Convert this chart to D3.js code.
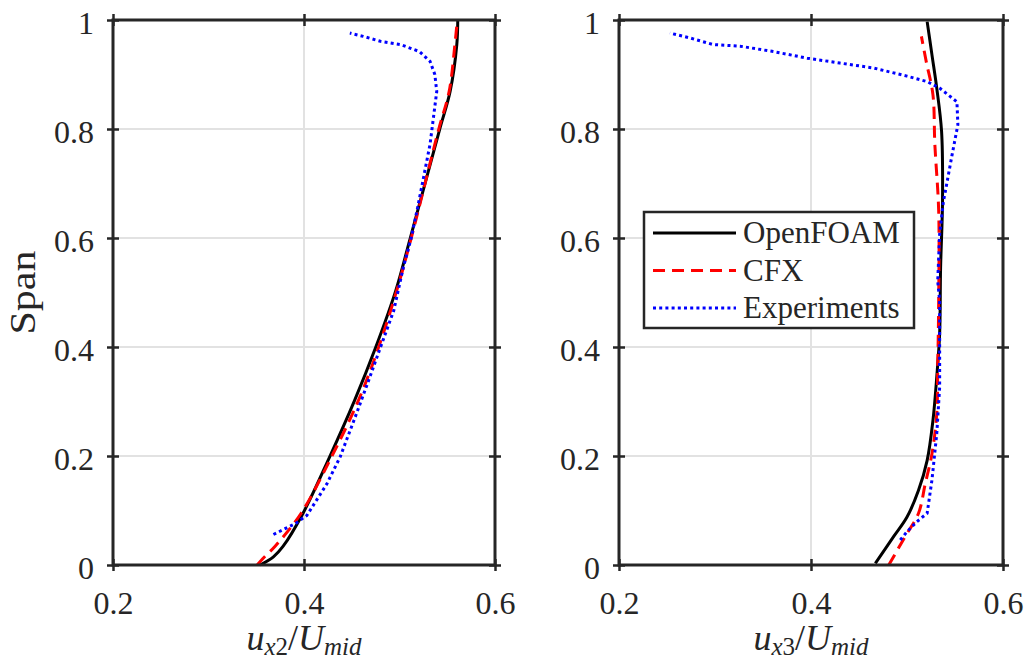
<!DOCTYPE html>
<html>
<head>
<meta charset="utf-8">
<script src="https://cdn.jsdelivr.net/npm/d3@7"></script>
<style>
	body { margin: 0; background: #fff; }
	text { font-family: 'Liberation Serif', serif; fill: #262626; }
</style>
</head>
<body>
<svg id="chart" width="1026" height="664"></svg>
<script>
// values as [u/Umid, span]
const ofLeft = [[0.354, 0], [0.368, 0.015], [0.378, 0.034], [0.399, 0.095], [0.427, 0.199],
	[0.453, 0.302], [0.475, 0.399], [0.496, 0.503], [0.511, 0.598],
	[0.542, 0.799], [0.553, 0.869], [0.560, 0.955], [0.561, 1.0]];
const cfxLeft = [[0.351, 0], [0.357, 0.012], [0.370, 0.035], [0.397, 0.095], [0.429, 0.199],
	[0.457, 0.302], [0.478, 0.399], [0.497, 0.503], [0.512, 0.598],
	[0.541, 0.799], [0.552, 0.869], [0.558, 0.955], [0.560, 0.99]];
const expLeft = [[0.368, 0.056], [0.391, 0.076], [0.403, 0.091], [0.424, 0.149], [0.438, 0.199],
	[0.455, 0.278], [0.469, 0.345], [0.480, 0.399], [0.494, 0.467], [0.504, 0.546],
	[0.512, 0.598], [0.519, 0.656], [0.532, 0.772], [0.539, 0.869], [0.537, 0.900],
	[0.532, 0.924], [0.521, 0.942], [0.501, 0.955], [0.480, 0.961], [0.462, 0.970], [0.448, 0.976]];

const ofRight = [[0.467, 0.003], [0.486, 0.052], [0.500, 0.088], [0.512, 0.137], [0.521, 0.192],
	[0.527, 0.265], [0.531, 0.345], [0.534, 0.424], [0.535, 0.546], [0.537, 0.668],
	[0.536, 0.796], [0.531, 0.875], [0.526, 0.936], [0.521, 0.997]];
const cfxRight = [[0.481, 0], [0.498, 0.052], [0.512, 0.095], [0.519, 0.149], [0.526, 0.204],
	[0.531, 0.278], [0.532, 0.363], [0.533, 0.485], [0.533, 0.65], [0.529, 0.772],
	[0.527, 0.863], [0.520, 0.924], [0.515, 0.970]];
const expRight = [[0.493, 0.046], [0.500, 0.061], [0.510, 0.079], [0.521, 0.095], [0.526, 0.156],
	[0.531, 0.241], [0.534, 0.326], [0.534, 0.424], [0.534, 0.485], [0.532, 0.521],
	[0.534, 0.607], [0.538, 0.668], [0.540, 0.686], [0.547, 0.753], [0.553, 0.808],
	[0.552, 0.850], [0.534, 0.875], [0.521, 0.887], [0.500, 0.897], [0.465, 0.912],
	[0.430, 0.921], [0.396, 0.930], [0.361, 0.942], [0.326, 0.952], [0.298, 0.955],
	[0.274, 0.967], [0.253, 0.976]];

const xTicks = [0.2, 0.4, 0.6];
const yTicks = [0, 0.2, 0.4, 0.6, 0.8, 1];
const seriesNames = ['OpenFOAM', 'CFX', 'Experiments'];

const styles = {
	OpenFOAM: { color: '#000000', dash: null, curve: d3.curveCatmullRom },
	CFX: { color: '#ff0000', dash: '12,7', curve: d3.curveCatmullRom },
	Experiments: { color: '#0000ff', dash: '3,3.2', curve: d3.curveLinear }
};

const svg = d3.select('#chart');
const yTop = 20, yBottom = 565;
const axisColor = '#262626';

const panel = (x0, x1, data, sub, showYLabel) => {
	const x = d3.scaleLinear().domain([0.2, 0.6]).range([x0, x1]);
	const y = d3.scaleLinear().domain([0, 1]).range([yBottom, yTop]);
	const g = svg.append('g');

	// grid
	g.selectAll('.hg').data(yTicks.slice(1, -1)).enter()
		.append('line')
		.attr('x1', x0).attr('x2', x1)
		.attr('y1', (d) => y(d)).attr('y2', (d) => y(d))
		.attr('stroke', '#e2e2e2').attr('stroke-width', 2);
	g.selectAll('.vg').data(xTicks.slice(1, -1)).enter()
		.append('line')
		.attr('x1', (d) => x(d)).attr('x2', (d) => x(d))
		.attr('y1', yTop).attr('y2', yBottom)
		.attr('stroke', '#e2e2e2').attr('stroke-width', 2);

	// curves
	seriesNames.forEach((name, i) => {
		const s = styles[name];
		const line = d3.line().x((d) => x(d[0])).y((d) => y(d[1])).curve(s.curve);
		g.append('path').datum(data[i])
			.attr('d', line)
			.attr('fill', 'none')
			.attr('stroke', s.color)
			.attr('stroke-width', 3)
			.attr('stroke-dasharray', s.dash);
	});

	// axes, ticks on both sides of every edge
	const styleAxis = (sel) => {
		sel.select('.domain').remove();
		sel.selectAll('line').attr('stroke', axisColor).attr('stroke-width', 2.5);
	};
	const noLabel = () => '';
	g.append('g').attr('transform', `translate(0,${ yBottom })`)
		.call(d3.axisBottom(x).tickValues(xTicks).tickSize(6).tickPadding(20).tickFormat(d3.format('.1f')))
		.call(styleAxis)
		.call((a) => a.selectAll('text').attr('font-size', 32).attr('fill', axisColor)
			.attr('font-family', 'Liberation Serif'));
	g.append('g').attr('transform', `translate(0,${ yBottom })`)
		.call(d3.axisTop(x).tickValues(xTicks).tickSize(6).tickFormat(noLabel)).call(styleAxis);
	g.append('g').attr('transform', `translate(0,${ yTop })`)
		.call(d3.axisBottom(x).tickValues(xTicks).tickSize(6).tickFormat(noLabel)).call(styleAxis);
	g.append('g').attr('transform', `translate(0,${ yTop })`)
		.call(d3.axisTop(x).tickValues(xTicks).tickSize(6).tickFormat(noLabel)).call(styleAxis);

	g.append('g').attr('transform', `translate(${ x0 },0)`)
		.call(d3.axisLeft(y).tickValues(yTicks).tickSize(6).tickPadding(13).tickFormat((d) => d3.format('~g')(d)))
		.call(styleAxis)
		.call((a) => a.selectAll('text').attr('font-size', 32).attr('dy', '0.43em').attr('fill', axisColor)
			.attr('font-family', 'Liberation Serif'));
	g.append('g').attr('transform', `translate(${ x0 },0)`)
		.call(d3.axisRight(y).tickValues(yTicks).tickSize(6).tickFormat(noLabel)).call(styleAxis);
	g.append('g').attr('transform', `translate(${ x1 },0)`)
		.call(d3.axisLeft(y).tickValues(yTicks).tickSize(6).tickFormat(noLabel)).call(styleAxis);
	g.append('g').attr('transform', `translate(${ x1 },0)`)
		.call(d3.axisRight(y).tickValues(yTicks).tickSize(6).tickFormat(noLabel)).call(styleAxis);

	g.append('rect')
		.attr('x', x0).attr('y', yTop)
		.attr('width', x1 - x0).attr('height', yBottom - yTop)
		.attr('fill', 'none').attr('stroke', axisColor).attr('stroke-width', 3);

	// x label
	const lab = g.append('text')
		.attr('x', (x0 + x1) / 2).attr('y', 650)
		.attr('text-anchor', 'middle')
		.attr('font-size', 36);
	lab.append('tspan').attr('font-style', 'italic').text('u');
	lab.append('tspan').attr('font-style', 'italic').attr('font-size', 25).attr('dy', 5).text('x');
	lab.append('tspan').attr('font-size', 25).text(sub);
	lab.append('tspan').attr('dy', -5).text('/');
	lab.append('tspan').attr('font-style', 'italic').text('U');
	lab.append('tspan').attr('font-style', 'italic').attr('font-size', 25).attr('dy', 5).text('mid');

	if (showYLabel) {
		g.append('text')
			.attr('transform', `translate(35,${ (yTop + yBottom) / 2 }) rotate(-90)`)
			.attr('text-anchor', 'middle')
			.attr('font-size', 36)
			.attr('textLength', 84)
			.attr('lengthAdjust', 'spacingAndGlyphs')
			.text('Span');
	}
	return { x, y };
};

panel(113, 495, [ofLeft, cfxLeft, expLeft], '2', true);
panel(619, 1003, [ofRight, cfxRight, expRight], '3', false);

// legend
const lg = svg.append('g').attr('transform', 'translate(644,212)');
lg.append('rect').attr('width', 270).attr('height', 116)
	.attr('fill', '#fff').attr('stroke', axisColor).attr('stroke-width', 2.5);
seriesNames.forEach((name, i) => {
	const s = styles[name];
	const yy = 21 + i * 37.5;
	lg.append('line')
		.attr('x1', 9).attr('x2', 92).attr('y1', yy).attr('y2', yy)
		.attr('stroke', s.color).attr('stroke-width', 3)
		.attr('stroke-dasharray', s.dash);
	lg.append('text')
		.attr('x', 99).attr('y', yy + 10)
		.attr('font-size', 31)
		.attr('fill', '#000')
		.text(name);
});
</script>
</body>
</html>
